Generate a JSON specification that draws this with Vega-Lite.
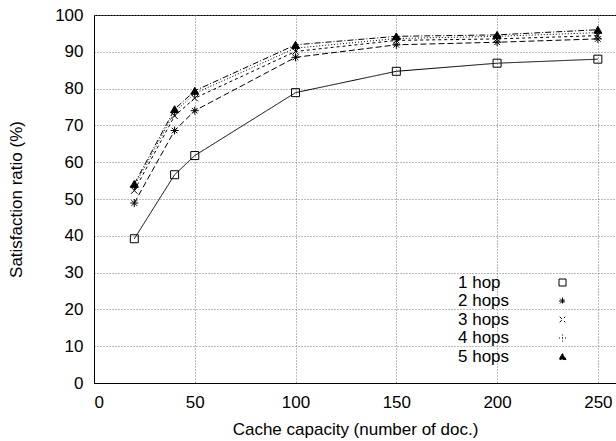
{
  "$schema": "https://vega.github.io/schema/vega-lite/v6.json",
  "autosize": {"type": "none"},
  "width": 522,
  "height": 368,
  "padding": {"left": 94, "top": 15, "right": 0, "bottom": 58},
  "background": "white",
  "config": {
    "font": "Liberation Sans",
    "view": {"stroke": "black", "strokeWidth": 1},
    "axis": {
      "labelFont": "Liberation Sans",
      "titleFont": "Liberation Sans",
      "labelFontSize": 17,
      "titleFontSize": 17,
      "titleFontWeight": "normal",
      "labelColor": "black",
      "titleColor": "black",
      "domainColor": "black",
      "ticks": false,
      "grid": true,
      "gridColor": "#777777",
      "gridDash": [1, 2],
      "gridOpacity": 1,
      "gridWidth": 1
    },
    "legend": {
      "labelFont": "Liberation Sans",
      "labelFontSize": 17,
      "labelColor": "black"
    }
  },
  "data": {
    "values": [
      {"series": "1 hop", "x": 20, "y": 39.2},
      {"series": "1 hop", "x": 40, "y": 56.6},
      {"series": "1 hop", "x": 50, "y": 61.8},
      {"series": "1 hop", "x": 100, "y": 78.9},
      {"series": "1 hop", "x": 150, "y": 84.7},
      {"series": "1 hop", "x": 200, "y": 86.9},
      {"series": "1 hop", "x": 250, "y": 88.0},
      {"series": "2 hops", "x": 20, "y": 48.9},
      {"series": "2 hops", "x": 40, "y": 68.6},
      {"series": "2 hops", "x": 50, "y": 74.0},
      {"series": "2 hops", "x": 100, "y": 88.5},
      {"series": "2 hops", "x": 150, "y": 91.9},
      {"series": "2 hops", "x": 200, "y": 92.6},
      {"series": "2 hops", "x": 250, "y": 93.5},
      {"series": "3 hops", "x": 20, "y": 52.3},
      {"series": "3 hops", "x": 40, "y": 72.6},
      {"series": "3 hops", "x": 50, "y": 77.4},
      {"series": "3 hops", "x": 100, "y": 90.1},
      {"series": "3 hops", "x": 150, "y": 93.1},
      {"series": "3 hops", "x": 200, "y": 93.5},
      {"series": "3 hops", "x": 250, "y": 94.4},
      {"series": "4 hops", "x": 20, "y": 53.5},
      {"series": "4 hops", "x": 40, "y": 73.6},
      {"series": "4 hops", "x": 50, "y": 78.7},
      {"series": "4 hops", "x": 100, "y": 91.0},
      {"series": "4 hops", "x": 150, "y": 93.6},
      {"series": "4 hops", "x": 200, "y": 94.2},
      {"series": "4 hops", "x": 250, "y": 95.2},
      {"series": "5 hops", "x": 20, "y": 54.1},
      {"series": "5 hops", "x": 40, "y": 74.4},
      {"series": "5 hops", "x": 50, "y": 79.4},
      {"series": "5 hops", "x": 100, "y": 91.9},
      {"series": "5 hops", "x": 150, "y": 94.2},
      {"series": "5 hops", "x": 200, "y": 94.6},
      {"series": "5 hops", "x": 250, "y": 96.0}
    ]
  },
  "encoding": {
    "x": {
      "field": "x", "type": "quantitative",
      "scale": {"domain": [0, 259], "nice": false, "zero": false},
      "axis": {"values": [0, 50, 100, 150, 200, 250], "title": "Cache capacity (number of doc.)", "labelPadding": 11, "titlePadding": 11, "grid": true}
    },
    "y": {
      "field": "y", "type": "quantitative",
      "scale": {"domain": [0, 100], "nice": false},
      "axis": {"values": [0, 10, 20, 30, 40, 50, 60, 70, 80, 90, 100], "title": "Satisfaction ratio (%)", "labelPadding": 11, "titlePadding": 29, "grid": true}
    }
  },
  "layer": [
    {
      "mark": {"type": "line", "color": "black", "strokeWidth": 1},
      "encoding": {
        "strokeDash": {
          "field": "series", "type": "nominal",
          "scale": {"domain": ["1 hop", "2 hops", "3 hops", "4 hops", "5 hops"], "range": [[1, 0], [6, 3], [3, 3], [1, 2], [6, 2, 1, 2]]},
          "legend": {
            "title": null, "orient": "none", "legendX": 460, "legendY": 259,
            "symbolSize": 49, "symbolStrokeColor": "black", "symbolStrokeWidth": 1,
            "labelOffset": -113, "labelAlign": "left", "rowPadding": 0.5,
            "encode": {"symbols": {"update": {
              "fill": {"signal": "datum.value === '5 hops' ? 'black' : 'transparent'"},
              "stroke": {"value": "black"},
              "strokeWidth": {"value": 1},
              "strokeOpacity": {"value": 1},
              "opacity": {"value": 1},
              "strokeDash": {"value": [100, 0]}
            }}}
          }
        }
      }
    },
    {
      "mark": {"type": "point", "filled": false, "stroke": "black", "strokeWidth": 1, "size": 64, "opacity": 1},
      "encoding": {
        "shape": {
          "field": "series", "type": "nominal",
          "scale": {"domain": ["1 hop", "2 hops", "3 hops", "4 hops", "5 hops"], "range": ["square", "M-1,0L1,0M0,-1L0,1M-0.7,-0.7L0.7,0.7M-0.7,0.7L0.7,-0.7", "M-0.8,-0.8L0.8,0.8M-0.8,0.8L0.8,-0.8", "M-1,0L1,0M0,-1L0,1", "triangle-up"]},
          "legend": {
            "title": null, "orient": "none", "legendX": 460, "legendY": 259,
            "symbolSize": 49, "symbolStrokeColor": "black", "symbolStrokeWidth": 1,
            "labelOffset": -113, "labelAlign": "left", "rowPadding": 0.5,
            "encode": {"symbols": {"update": {
              "fill": {"signal": "datum.value === '5 hops' ? 'black' : 'transparent'"},
              "stroke": {"value": "black"},
              "strokeWidth": {"value": 1},
              "strokeOpacity": {"value": 1},
              "opacity": {"value": 1},
              "strokeDash": {"value": [100, 0]}
            }}}
          }
        },
        "fill": {
          "condition": {"test": "datum.series === '5 hops'", "value": "black"},
          "value": "transparent"
        }
      }
    }
  ]
}
